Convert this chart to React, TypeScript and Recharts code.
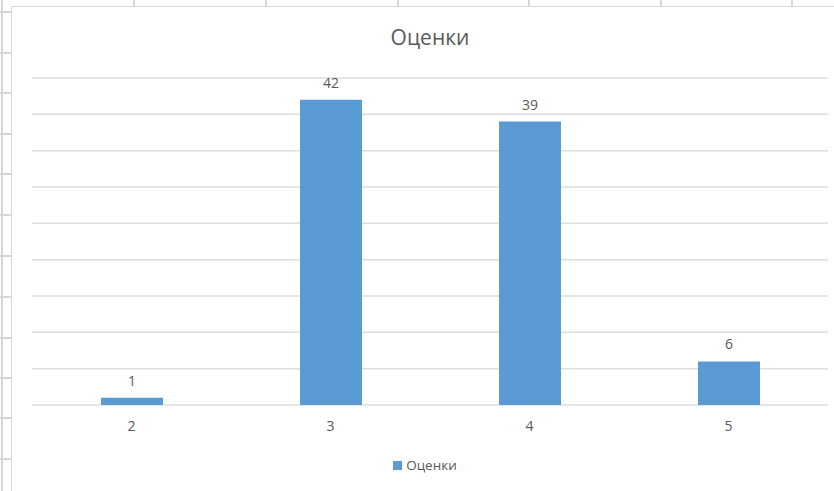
import React from 'react'
import { BarChart, Bar, XAxis, YAxis, CartesianGrid, Legend, LabelList } from 'recharts'

// данные диаграммы "Оценки"
const grades = ['2', '3', '4', '5']
const gradeCounts = [1, 42, 39, 6]
const yTicks = [0, 5, 10, 15, 20, 25, 30, 35, 40, 45]
const seriesName = 'Оценки'

const chartData = grades.map((g, i) => ({ grade: g, value: gradeCounts[i] }))

// линии листа Excel за диаграммой (только оформление)
const sheetColumnLines = [133, 265, 397, 528, 660, 791]
const sheetRowLines = [11, 52, 92, 133, 173, 214, 255, 296, 337, 377, 417, 458]

const FONT = '"Open Sans", "Liberation Sans", sans-serif'
const TEXT = '#595959'
const BAR = '#5B9BD5'
const SHEET = '#D6D6D6'

export default function App() {
  return (
    <div
      style={{
        position: 'fixed',
        left: 0,
        top: 0,
        width: 834,
        height: 491,
        overflow: 'hidden',
        background: '#fff',
        fontFamily: FONT,
      }}
    >
      {/* фон листа */}
      <div style={{ position: 'absolute', left: 1, top: 0, width: 1.5, height: 491, background: SHEET }} />
      {sheetColumnLines.map((x) => (
        <div key={`c-${x}`} style={{ position: 'absolute', left: x, top: 0, width: 1.5, height: 7, background: SHEET }} />
      ))}
      {sheetRowLines.map((y) => (
        <div key={`r-${y}`} style={{ position: 'absolute', left: 0, top: y, width: 11, height: 1.5, background: SHEET }} />
      ))}

      {/* рамка области диаграммы */}
      <div
        style={{
          position: 'absolute',
          left: 10.5,
          top: 5.5,
          width: 900,
          height: 600,
          borderLeft: `1.5px solid ${SHEET}`,
          borderTop: `1.5px solid ${SHEET}`,
          background: '#fff',
        }}
      />

      <div
        style={{
          position: 'absolute',
          left: 32,
          width: 796,
          top: 27,
          textAlign: 'center',
          fontSize: 21,
          lineHeight: '21px',
          color: TEXT,
        }}
      >
        {seriesName}
      </div>

      <div style={{ position: 'absolute', left: 0, top: 0 }}>
        <BarChart
          width={834}
          height={491}
          data={chartData}
          margin={{ top: 78, right: 6, left: 32, bottom: 16 }}
        >
          <CartesianGrid vertical={false} stroke="#DEDEDE" strokeWidth={1.5} />
          <YAxis hide domain={[0, 45]} ticks={yTicks} width={0} />
          <XAxis
            dataKey="grade"
            axisLine={false}
            tickLine={false}
            tickMargin={10}
            height={48}
            tick={{ fill: TEXT, fontSize: 14, fontFamily: FONT }}
          />
          <Legend
            verticalAlign="bottom"
            iconType="square"
            iconSize={9}
            formatter={(v) => <span style={{ color: TEXT, fontSize: 13.5, fontFamily: FONT }}>{v}</span>}
          />
          <Bar dataKey="value" name={seriesName} fill={BAR} barSize={62} isAnimationActive={false}>
            <LabelList dataKey="value" position="top" offset={12} fill={TEXT} fontSize={14} fontFamily={FONT} />
          </Bar>
        </BarChart>
      </div>
    </div>
  )
}
